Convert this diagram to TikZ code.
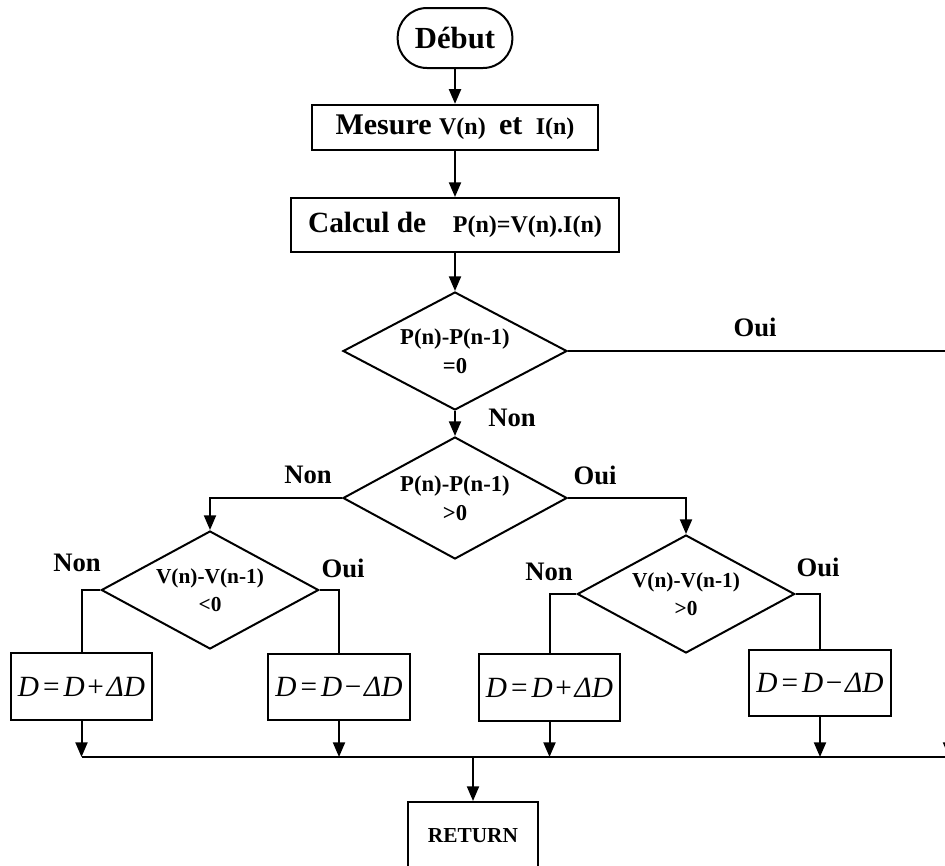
\documentclass[tikz,border=0pt]{standalone}
\usepackage{fontspec}
\setmainfont{Liberation Serif}
\usetikzlibrary{shapes.geometric,arrows.meta}
\begin{document}
\begin{tikzpicture}[x=0.75pt,y=-0.75pt,line width=1.5pt,
  box/.style={draw,rectangle,inner sep=0pt,font=\bfseries},
  dec/.style={draw,diamond,aspect=2,inner sep=0pt,align=center,minimum width=168pt,minimum height=88.5pt},
  small/.style={dec,aspect=1.84,minimum width=163pt,minimum height=88.5pt},
  lab/.style={font=\fontsize{20}{24}\selectfont\bfseries,inner sep=0pt},
  arr/.style={-{Triangle[length=11pt,width=9pt]}},
  formula/.style={box,minimum width=106pt,minimum height=50pt,font=\fontsize{22}{26}\selectfont}
]
\useasboundingbox (0,0) rectangle (945,865);

\newcommand{\eqp}{\textit{D}\hspace{3pt}=\hspace{3pt}\textit{D}\hspace{2pt}+\hspace{2pt}\textit{ΔD}}
\newcommand{\eqm}{\textit{D}\hspace{3pt}=\hspace{3pt}\textit{D}\hspace{2pt}−\hspace{2pt}\textit{ΔD}}

\node[box,rounded corners=22pt,minimum width=86pt,minimum height=45pt,font=\fontsize{23}{27}\selectfont\bfseries] (debut) at (455,38) {Début};
\node[box,minimum width=214pt,minimum height=34pt,font=\fontsize{22.5}{26}\selectfont\bfseries] (mesure) at (455,127.5)
  {Mesure {\fontsize{18}{20}\selectfont V(n)}\hspace{10pt}et\hspace{10pt}{\fontsize{18}{20}\selectfont I(n)}};
\node[box,minimum width=246pt,minimum height=40.5pt,font=\fontsize{22}{26}\selectfont\bfseries] (calcul) at (455,225)
  {Calcul de\hspace{20pt}{\fontsize{18}{20}\selectfont P(n)=V(n).I(n)}};

\node[dec,font=\fontsize{17}{22}\selectfont\bfseries] (d1) at (455,351) {P(n)-P(n-1)\\=0};
\node[dec,minimum height=91.5pt,font=\fontsize{17}{22}\selectfont\bfseries] (d2) at (455,498) {P(n)-P(n-1)\\>0};
\node[small,font=\fontsize{16}{21}\selectfont\bfseries] (d3) at (210,590) {V(n)-V(n-1)\\<0};
\node[small,font=\fontsize{16}{21}\selectfont\bfseries] (d4) at (686,594) {V(n)-V(n-1)\\>0};

\node[formula] (b1) at (81.5,686.5) {\eqp};
\node[formula] (b2) at (339,687) {\eqm};
\node[formula] (b3) at (549.5,687.5) {\eqp};
\node[formula] (b4) at (820,683) {\eqm};

\node[box,minimum width=97.5pt,minimum height=51pt,font=\fontsize{16}{18}\selectfont\bfseries] (ret) at (473,836) {RETURN};

% main chain
\draw[arr] (debut) -- (mesure);
\draw[arr] (mesure) -- (calcul);
\draw[arr] (calcul) -- (d1);
\draw[arr] (d1) -- (d2);

% Oui branch of d1 (runs off the right edge)
\coordinate (oR) at (949,351);
\coordinate (busL) at (81.5,757);
\coordinate (busR) at (949,757);
\draw[arr] (d1.east) -- (oR) -- (busR);

% d2 branches
\draw[arr] (d2.west) -- (d3.north |- d2.west) -- (d3.north);
\draw[arr] (d2.east) -- (d4.north |- d2.east) -- (d4.north);

% d3 / d4 branches
\draw (d3.west) -- (b1.north |- d3.west) -- (b1.north);
\draw (d3.east) -- (b2.north |- d3.east) -- (b2.north);
\draw (d4.west) -- (b3.north |- d4.west) -- (b3.north);
\draw (d4.east) -- (b4.north |- d4.east) -- (b4.north);

% bus
\draw (busL) -- (busR);
\draw[arr] (b1.south) -- (b1.south |- busL);
\draw[arr] (b2.south) -- (b2.south |- busL);
\draw[arr] (b3.south) -- (b3.south |- busL);
\draw[arr] (b4.south) -- (b4.south |- busL);
\coordinate (busM) at (473,757);
\draw[arr] (busM) -- (ret.north);

% labels
\node[lab] (l1) at (755,327) {Oui};
\node[lab] (l2) at (512,418) {Non};
\node[lab] (l3) at (308,475) {Non};
\node[lab] (l4) at (595,475) {Oui};
\node[lab] (l5) at (77,563) {Non};
\node[lab] (l6) at (343,568) {Oui};
\node[lab] (l7) at (549,572) {Non};
\node[lab] (l8) at (818,567) {Oui};
\end{tikzpicture}
\end{document}
